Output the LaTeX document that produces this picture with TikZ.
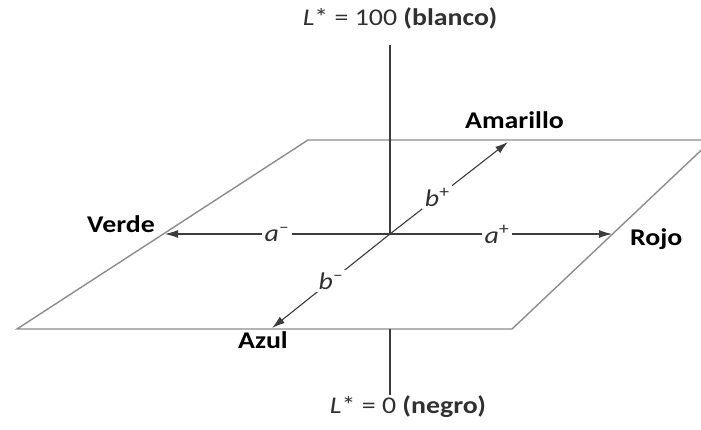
\documentclass[tikz,border=0pt]{standalone}
\usepackage{fontspec}
\setmainfont[FakeStretch=1.16]{Carlito}
\usetikzlibrary{arrows.meta,calc}
\definecolor{planeGray}{HTML}{8C8C8C}
\definecolor{axisGray}{HTML}{3C3C3C}
\definecolor{textGray}{HTML}{303030}
\newcommand{\labFont}{\fontsize{24}{28}\selectfont}
\newcommand{\labLstar}[2]{\textit{L}*\ =\ #1 \textbf{(#2)}}
\newcommand{\labAxis}[2]{\textit{#1}\textsuperscript{#2}}

\begin{document}
\begin{tikzpicture}[x=1pt,y=-1pt,
  plane/.style={draw=planeGray, line width=1.4pt},
  axisline/.style={draw=axisGray, line width=1.1pt},
  axisarrow/.style={axisline, -{Latex[length=13pt,width=8pt]}},
  colorlab/.style={anchor=base, inner sep=0pt, font=\labFont\bfseries},
  endlab/.style={anchor=base, inner sep=0pt, font=\labFont, text=textGray},
  axislab/.style={fill=white, inner sep=3pt, font=\labFont, text=textGray}]
\clip (0,0) rectangle (701,430);
% plano a*b*
\coordinate (O) at (390,234);
\coordinate (pBL) at (17,329);
\coordinate (pTL) at (308,140);
\coordinate (pTR) at (712,140);
\coordinate (pBR) at (512,329);
\draw[plane] (pBL) -- (pTL) -- (pTR) -- (pBR) -- cycle;
% eje L*
\coordinate (Ltop) at (390,45);
\coordinate (Lcut) at (390,329);
\coordinate (Lend) at (390,395);
\draw[axisline] (Ltop) -- (O);
\draw[axisline] (Lcut) -- (Lend);
% ejes a* y b*
\coordinate (verdeTip) at (165,234);
\coordinate (rojoTip) at (612,234);
\coordinate (amaTip) at (508,142);
\coordinate (azulTip) at (272,328);
\draw[axisarrow] (O) -- (verdeTip);
\draw[axisarrow] (O) -- (rojoTip);
\draw[axisarrow] (O) -- (amaTip);
\draw[axisarrow] (O) -- (azulTip);
\node[axislab] (aNeg) at (277,234) {\labAxis{a}{--}};
\node[axislab] (aPos) at (497,234) {\labAxis{a}{+}};
\node[axislab] (bPos) at ($(O)!0.4!(amaTip)$) {\labAxis{b}{+}};
\node[axislab] (bNeg) at ($(O)!0.5!(azulTip)$) {\labAxis{b}{--}};
% textos
\node[endlab] (Lhigh) at (400,26) {\labLstar{100}{blanco}};
\node[endlab] (Llow) at (408,413) {\labLstar{0}{negro}};
\node[colorlab, anchor=base west] (amarillo) at (465,129) {Amarillo};
\node[colorlab, anchor=base east] (verde) at (155,233) {Verde};
\node[colorlab, anchor=base west] (rojo) at (630,246) {Rojo};
\node[colorlab, anchor=base west] (azul) at (238,348) {Azul};
\end{tikzpicture}
\end{document}
